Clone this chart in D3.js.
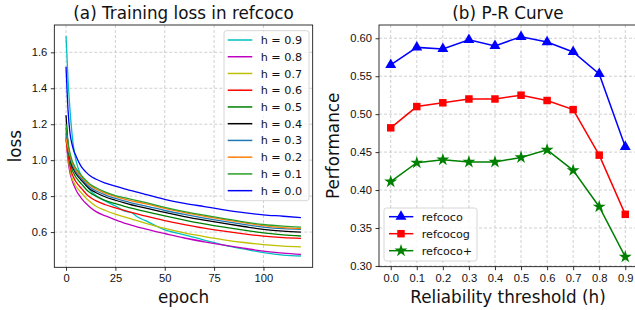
<!DOCTYPE html>
<html>
<head>
<meta charset="utf-8">
<script src="https://cdn.jsdelivr.net/npm/d3@7"></script>
<style>
  body { margin: 0; background: #fff; }
  svg { display: block; font-family: "DejaVu Sans", sans-serif; }
  .grid line { stroke: #c4c4c4; stroke-width: 0.8; stroke-dasharray: 3,2; }
  .axis path, .axis line { stroke: #000; stroke-width: 0.8; }
  .axis text { font-size: 11.2px; fill: #111; }
</style>
</head>
<body>
<svg id="chart" width="635" height="310"></svg>
<script>
// ---- (a) training loss ----
var epochs = [0, 1, 2, 3, 4, 5, 6, 7, 8, 10, 12, 15, 20, 25, 30, 33, 36, 40, 50, 60, 70, 80, 90, 100, 110, 119];
var lossH09 = [1.69, 1.45, 1.28, 1.15, 1.06, 1.00, 0.96, 0.93, 0.905, 0.865, 0.835, 0.805, 0.772, 0.745, 0.715, 0.71, 0.685, 0.665, 0.612, 0.585, 0.555, 0.528, 0.506, 0.486, 0.472, 0.467];
var lossH08 = [1.13, 1.0, 0.93, 0.89, 0.86, 0.835, 0.815, 0.8, 0.785, 0.76, 0.74, 0.715, 0.69, 0.668, 0.648, 0.638, 0.629, 0.618, 0.592, 0.567, 0.546, 0.527, 0.51, 0.494, 0.483, 0.476];
var lossH07 = [1.15, 1.02, 0.95, 0.9, 0.875, 0.855, 0.84, 0.827, 0.815, 0.79, 0.77, 0.745, 0.72, 0.70, 0.683, 0.673, 0.663, 0.65, 0.62, 0.595, 0.575, 0.557, 0.542, 0.53, 0.522, 0.518];
var lossH06 = [1.12, 1.03, 0.97, 0.925, 0.9, 0.88, 0.865, 0.852, 0.84, 0.815, 0.795, 0.775, 0.752, 0.735, 0.719, 0.71, 0.701, 0.69, 0.664, 0.642, 0.622, 0.605, 0.59, 0.577, 0.569, 0.565];
var lossH05 = [1.18, 1.06, 1.0, 0.95, 0.925, 0.905, 0.89, 0.877, 0.865, 0.84, 0.82, 0.8, 0.775, 0.758, 0.742, 0.733, 0.725, 0.715, 0.69, 0.667, 0.646, 0.628, 0.611, 0.595, 0.584, 0.578];
var lossH04 = [1.25, 1.09, 1.02, 0.97, 0.945, 0.925, 0.91, 0.897, 0.885, 0.86, 0.84, 0.82, 0.795, 0.777, 0.761, 0.752, 0.744, 0.735, 0.709, 0.686, 0.666, 0.648, 0.631, 0.615, 0.605, 0.6];
var lossH03 = [1.15, 1.07, 1.02, 0.98, 0.955, 0.935, 0.92, 0.907, 0.895, 0.87, 0.85, 0.83, 0.806, 0.787, 0.772, 0.763, 0.755, 0.746, 0.72, 0.698, 0.678, 0.66, 0.643, 0.628, 0.619, 0.615];
var lossH02 = [1.12, 1.07, 1.03, 0.99, 0.965, 0.945, 0.93, 0.917, 0.905, 0.88, 0.86, 0.84, 0.815, 0.797, 0.782, 0.774, 0.767, 0.758, 0.732, 0.708, 0.688, 0.67, 0.652, 0.636, 0.625, 0.62];
var lossH01 = [1.2, 1.1, 1.04, 1.0, 0.975, 0.955, 0.94, 0.925, 0.912, 0.888, 0.868, 0.848, 0.822, 0.803, 0.79, 0.782, 0.775, 0.765, 0.738, 0.714, 0.694, 0.675, 0.657, 0.642, 0.633, 0.628];
var lossH00 = [1.52, 1.28, 1.15, 1.09, 1.05, 1.025, 1.0, 0.978, 0.96, 0.935, 0.915, 0.895, 0.872, 0.855, 0.839, 0.83, 0.822, 0.81, 0.782, 0.76, 0.742, 0.724, 0.708, 0.696, 0.688, 0.68];
var lossLabels = ["h = 0.9", "h = 0.8", "h = 0.7", "h = 0.6", "h = 0.5", "h = 0.4", "h = 0.3", "h = 0.2", "h = 0.1", "h = 0.0"];
var lossColors = ["#00bfbf", "#bf00bf", "#bfbf00", "#ff0000", "#008000", "#000000", "#1f77b4", "#ff7f0e", "#2ca02c", "#0000ff"];
var lossSeries = [lossH09, lossH08, lossH07, lossH06, lossH05, lossH04, lossH03, lossH02, lossH01, lossH00];
var lossXTicks = [0, 25, 50, 75, 100];
var lossYTicks = [0.6, 0.8, 1.0, 1.2, 1.4, 1.6];

// ---- (b) P-R curve ----
var thresholds = [0.0, 0.1, 0.2, 0.3, 0.4, 0.5, 0.6, 0.7, 0.8, 0.9];
var refcoco  = [0.565, 0.588, 0.586, 0.598, 0.590, 0.602, 0.595, 0.582, 0.553, 0.457];
var refcocog = [0.482, 0.510, 0.515, 0.520, 0.520, 0.525, 0.518, 0.506, 0.446, 0.368];
var refcocoP = [0.411, 0.436, 0.440, 0.437, 0.437, 0.443, 0.453, 0.426, 0.378, 0.312];
var prNames = ["refcoco", "refcocog", "refcoco+"];
var prColors = ["#0000ff", "#ff0000", "#008000"];
var prSymbols = [d3.symbolTriangle, d3.symbolSquare, d3.symbolStar];
var prSeries = [refcoco, refcocog, refcocoP];
var prYTicks = [0.30, 0.35, 0.40, 0.45, 0.50, 0.55, 0.60];

var svg = d3.select('#chart');

// ===== left panel =====
var L = { left: 54.3, right: 312.7, top: 25, bottom: 267.3 };
var xL = d3.scaleLinear().domain([-5.95, 124.95]).range([L.left, L.right]);
var yL = d3.scaleLinear().domain([0.404, 1.752]).range([L.bottom, L.top]);

var gl = svg.append('g');
// grid
gl.append('g').attr('class', 'grid').selectAll('line').data(lossXTicks).enter().append('line')
    .attr('x1', function(d) { return xL(d); }).attr('x2', function(d) { return xL(d); })
    .attr('y1', L.top).attr('y2', L.bottom);
gl.append('g').attr('class', 'grid').selectAll('line').data(lossYTicks).enter().append('line')
    .attr('y1', function(d) { return yL(d); }).attr('y2', function(d) { return yL(d); })
    .attr('x1', L.left).attr('x2', L.right);

var lineL = d3.line()
    .x(function(d, i) { return xL(epochs[i]); })
    .y(function(d) { return yL(d); })
    .curve(d3.curveMonotoneX);

gl.selectAll('.loss').data(lossSeries).enter().append('path')
    .attr('class', 'loss')
    .attr('fill', 'none')
    .attr('stroke', function(d, i) { return lossColors[i]; })
    .attr('stroke-width', 1.3)
    .attr('d', lineL);

gl.append('g').attr('class', 'axis').attr('transform', 'translate(0,' + L.bottom + ')')
    .call(d3.axisBottom(xL).tickValues(lossXTicks).tickSize(3.5).tickPadding(3.5).tickSizeOuter(0))
    .select('.domain').remove();
gl.append('g').attr('class', 'axis').attr('transform', 'translate(' + L.left + ',0)')
    .call(d3.axisLeft(yL).tickValues(lossYTicks).tickFormat(d3.format('.1f')).tickSize(3.5).tickPadding(3.5).tickSizeOuter(0))
    .select('.domain').remove();
gl.append('rect').attr('x', L.left).attr('y', L.top)
    .attr('width', L.right - L.left).attr('height', L.bottom - L.top)
    .attr('fill', 'none').attr('stroke', '#000').attr('stroke-width', 0.8);

// legend
var lg = gl.append('g');
lg.append('rect').attr('x', 224).attr('y', 30.7).attr('width', 85).attr('height', 170)
    .attr('rx', 2.5).attr('fill', '#fff').attr('fill-opacity', 0.8)
    .attr('stroke', '#cccccc').attr('stroke-width', 0.8);
var lgItem = lg.selectAll('.item').data(lossLabels).enter().append('g')
    .attr('transform', function(d, i) { return 'translate(0,' + (40 + i * 16.74) + ')'; });
lgItem.append('line').attr('x1', 227.7).attr('x2', 252.3)
    .attr('stroke', function(d, i) { return lossColors[i]; }).attr('stroke-width', 1.5);
lgItem.append('text').attr('x', 260.7).attr('dy', '0.36em')
    .attr('font-size', '11.2px').attr('fill', '#111').text(function(d) { return d; });

gl.append('text').attr('x', (L.left + L.right) / 2).attr('y', 19)
    .attr('text-anchor', 'middle').attr('font-size', '16.8px').attr('fill', '#111')
    .text('(a) Training loss in refcoco');
gl.append('text').attr('x', (L.left + L.right) / 2).attr('y', 303)
    .attr('text-anchor', 'middle').attr('font-size', '16.8px').attr('fill', '#111')
    .text('epoch');
gl.append('text').attr('transform', 'translate(21,' + ((L.top + L.bottom) / 2) + ') rotate(-90)')
    .attr('text-anchor', 'middle').attr('font-size', '16.8px').attr('fill', '#111')
    .text('loss');

// ===== right panel =====
var R = { left: 379, right: 637, top: 25, bottom: 266.7 };
var xR = d3.scaleLinear().domain([-0.045, 0.945]).range([R.left, R.right]);
var yR = d3.scaleLinear().domain([0.299, 0.6175]).range([R.bottom, R.top]);

var gr = svg.append('g');
gr.append('g').attr('class', 'grid').selectAll('line').data(thresholds).enter().append('line')
    .attr('x1', function(d) { return xR(d); }).attr('x2', function(d) { return xR(d); })
    .attr('y1', R.top).attr('y2', R.bottom);
gr.append('g').attr('class', 'grid').selectAll('line').data(prYTicks).enter().append('line')
    .attr('y1', function(d) { return yR(d); }).attr('y2', function(d) { return yR(d); })
    .attr('x1', R.left).attr('x2', R.right);

var lineR = d3.line()
    .x(function(d, i) { return xR(thresholds[i]); })
    .y(function(d) { return yR(d); });

var symSizes = [52, 56, 52];

prSeries.forEach(function(vals, k) {
    gr.append('path').datum(vals)
        .attr('fill', 'none').attr('stroke', prColors[k]).attr('stroke-width', 1.5)
        .attr('d', lineR);
    gr.selectAll('.m' + k).data(vals).enter().append('path')
        .attr('class', 'm' + k)
        .attr('transform', function(d, i) { return 'translate(' + xR(thresholds[i]) + ',' + yR(d) + ')'; })
        .attr('d', d3.symbol().type(prSymbols[k]).size(symSizes[k]))
        .attr('fill', prColors[k]);
});

gr.append('g').attr('class', 'axis').attr('transform', 'translate(0,' + R.bottom + ')')
    .call(d3.axisBottom(xR).tickValues(thresholds).tickFormat(d3.format('.1f')).tickSize(3.5).tickPadding(3.5).tickSizeOuter(0))
    .select('.domain').remove();
gr.append('g').attr('class', 'axis').attr('transform', 'translate(' + R.left + ',0)')
    .call(d3.axisLeft(yR).tickValues(prYTicks).tickFormat(d3.format('.2f')).tickSize(3.5).tickPadding(3.5).tickSizeOuter(0))
    .select('.domain').remove();
gr.append('rect').attr('x', R.left).attr('y', R.top)
    .attr('width', R.right - R.left).attr('height', R.bottom - R.top)
    .attr('fill', 'none').attr('stroke', '#000').attr('stroke-width', 0.8);

var rg = gr.append('g');
rg.append('rect').attr('x', 384).attr('y', 208).attr('width', 93).attr('height', 53)
    .attr('rx', 2.5).attr('fill', '#fff').attr('fill-opacity', 0.8)
    .attr('stroke', '#cccccc').attr('stroke-width', 0.8);
var rgItem = rg.selectAll('.item').data(prNames).enter().append('g')
    .attr('transform', function(d, i) { return 'translate(0,' + (216.7 + i * 17) + ')'; });
rgItem.append('line').attr('x1', 389).attr('x2', 413.3)
    .attr('stroke', function(d, i) { return prColors[i]; }).attr('stroke-width', 1.5);
rgItem.append('path').attr('transform', 'translate(401,0)')
    .attr('d', function(d, i) { return d3.symbol().type(prSymbols[i]).size(symSizes[i])(); })
    .attr('fill', function(d, i) { return prColors[i]; });
rgItem.append('text').attr('x', 421.7).attr('dy', '0.36em')
    .attr('font-size', '11.2px').attr('fill', '#111').text(function(d) { return d; });

gr.append('text').attr('x', (R.left + R.right) / 2).attr('y', 19)
    .attr('text-anchor', 'middle').attr('font-size', '16.8px').attr('fill', '#111')
    .text('(b) P-R Curve');
gr.append('text').attr('x', (R.left + R.right) / 2).attr('y', 303)
    .attr('text-anchor', 'middle').attr('font-size', '16.8px').attr('fill', '#111')
    .text('Reliability threshold (h)');
gr.append('text').attr('transform', 'translate(339,' + ((R.top + R.bottom) / 2) + ') rotate(-90)')
    .attr('text-anchor', 'middle').attr('font-size', '16.8px').attr('fill', '#111')
    .text('Performance');
</script>
</body>
</html>
